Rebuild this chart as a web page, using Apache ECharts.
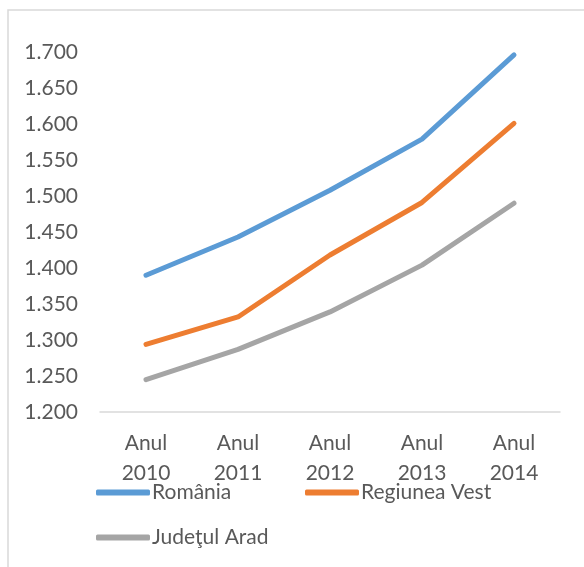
<!DOCTYPE html>
<html>
<head>
<meta charset="utf-8">
<script src="https://cdn.jsdelivr.net/npm/echarts@6/dist/echarts.min.js"></script>
<style>
html,body{margin:0;padding:0;background:#fff;}
#main{width:584px;height:567px;}
</style>
</head>
<body>
<div id="main"></div>
<script>
const categories = ['Anul\n2010', 'Anul\n2011', 'Anul\n2012', 'Anul\n2013', 'Anul\n2014'];
const romania = [1390, 1443, 1508, 1579, 1696];
const regiuneaVest = [1294, 1332, 1418, 1491, 1601];
const judetulArad = [1245, 1287, 1339, 1404, 1490];
const seriesNames = ['România', 'Regiunea Vest', 'Judeţul Arad'];
const colors = ['#5b9bd5', '#ed7d31', '#a5a5a5'];
const yMin = 1200, yMax = 1700, yStep = 50;

const FONT = 'Lato';
const FS = 21;
const TXT = '#595959';
const chart = echarts.init(document.getElementById('main'));

function fmt(v) {
  const s = String(Math.round(v));
  return s.replace(/(\d)(\d{3})$/, '$1.$2');
}

function legendAt(name, left, top) {
  return {
    data: [name], left: left, top: top,
    icon: 'roundRect', itemWidth: 54, itemHeight: 6, itemGap: 0,
    padding: 0,
    textStyle: { fontFamily: FONT, fontSize: FS, color: TXT, padding: [0, 0, 0, -3] }
  };
}

chart.setOption({
  animation: false,
  color: colors,
  graphic: [{
    type: 'rect', silent: true,
    shape: { x: 8, y: 10, width: 600, height: 600 },
    style: { fill: 'none', stroke: '#d9d9d9', lineWidth: 1.5 }
  }],
  grid: { left: 100, right: 24, top: 52, bottom: 155, containLabel: false },
  legend: [
    legendAt(seriesNames[0], 96, 482),
    legendAt(seriesNames[1], 305, 482),
    legendAt(seriesNames[2], 96, 527)
  ],
  xAxis: {
    type: 'category', data: categories, boundaryGap: true,
    axisLine: { show: true, lineStyle: { color: '#d9d9d9', width: 1.5 } },
    axisTick: { show: false },
    axisLabel: { fontFamily: FONT, fontSize: FS, color: TXT, lineHeight: 30, margin: 16, interval: 0 }
  },
  yAxis: {
    type: 'value', min: yMin, max: yMax, interval: yStep,
    axisLine: { show: false }, axisTick: { show: false },
    splitLine: { show: false },
    axisLabel: { fontFamily: FONT, fontSize: FS, color: TXT, margin: 22, formatter: fmt }
  },
  series: [
    { name: seriesNames[0], type: 'line', data: romania, showSymbol: false, lineStyle: { width: 5, cap: 'round', join: 'round' } },
    { name: seriesNames[1], type: 'line', data: regiuneaVest, showSymbol: false, lineStyle: { width: 5, cap: 'round', join: 'round' } },
    { name: seriesNames[2], type: 'line', data: judetulArad, showSymbol: false, lineStyle: { width: 5, cap: 'round', join: 'round' } }
  ]
});
</script>
</body>
</html>
